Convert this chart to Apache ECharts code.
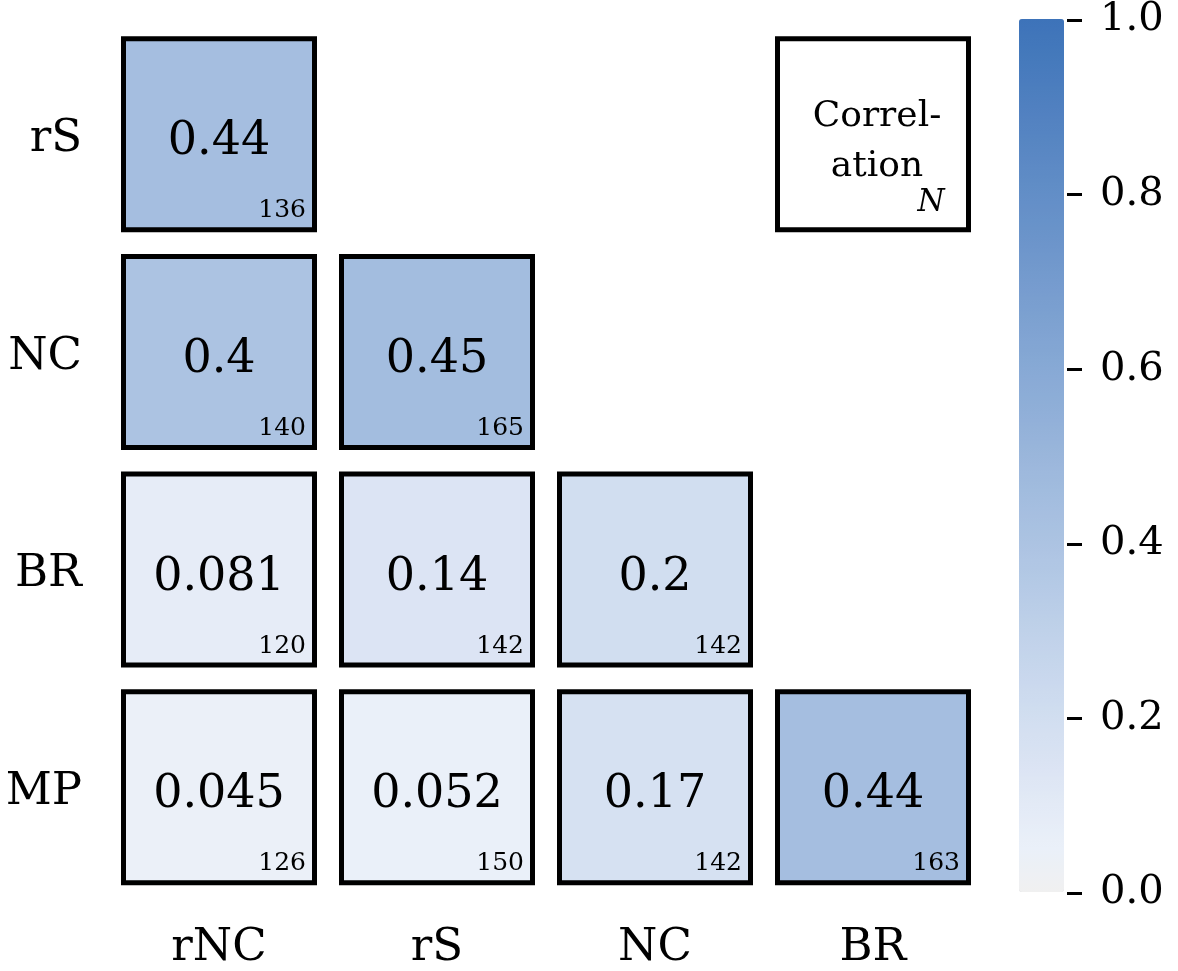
<!DOCTYPE html>
<html>
<head>
<meta charset="utf-8">
<script src="https://cdn.jsdelivr.net/npm/echarts@6/dist/echarts.min.js"></script>
<style>html,body{margin:0;padding:0;background:#fff;}#c{width:1178px;height:971px;}</style>
</head>
<body>
<div id="c"></div>
<script>
// ---- data ----
const colLabels = ['rNC', 'rS', 'NC', 'BR'];
const rowLabels = ['rS', 'NC', 'BR', 'MP'];
// cell positions (column index, row index), correlation and N
const cellCol = [0, 0, 1, 0, 1, 2, 0, 1, 2, 3];
const cellRow = [0, 1, 1, 2, 2, 2, 3, 3, 3, 3];
const corrValues = [0.44, 0.4, 0.45, 0.081, 0.14, 0.2, 0.045, 0.052, 0.17, 0.44];
const nValues = [136, 140, 165, 120, 142, 142, 126, 150, 142, 163];
const colorbarTicks = [0, 0.2, 0.4, 0.6, 0.8, 1.0];
const legendCell = [3, 0];
const legendText = ['Correl-', 'ation'];
const legendNText = 'N';

const FONT = '"DejaVu Serif", serif';
const cells = corrValues.map((v, i) => [cellCol[i], cellRow[i], v, nValues[i]]);
const palette = ['#f0f0f0', '#eaf0f9', '#e3eaf6', '#dae3f3', '#d1def0', '#c8d7ed', '#bfd1e9',
  '#b5cae6', '#acc3e2', '#a3bddf', '#9ab6db', '#90afd8', '#87a9d5', '#7ea2d1', '#759bce',
  '#6b94ca', '#628ec7', '#5987c3', '#5080c0', '#467abc', '#3d73b9'];

function drawCell(api, fillOverride) {
  const c = api.coord([api.value(0), api.value(1)]);
  const outer = 196;
  const lw = 5;
  const x0 = c[0] - outer / 2, y0 = c[1] - outer / 2;
  return {
    x0, y0, outer,
    rect: {
      type: 'rect',
      shape: { x: x0 + lw / 2, y: y0 + lw / 2, width: outer - lw, height: outer - lw },
      style: { fill: fillOverride || api.visual('color'), stroke: '#000', lineWidth: lw }
    }
  };
}

const chart = echarts.init(document.getElementById('c'));
chart.setOption({
  animation: false,
  backgroundColor: '#fff',
  grid: [
    { left: 110, right: 196, top: 25.5, bottom: 73.5 },
    { left: 1019, top: 18, width: 48, height: 875 }
  ],
  xAxis: [
    {
      type: 'category', data: colLabels, gridIndex: 0,
      axisLine: { show: false }, axisTick: { show: false }, splitLine: { show: false },
      axisLabel: { fontFamily: FONT, fontSize: 45, color: '#000', margin: 30 }
    },
    { type: 'value', gridIndex: 1, show: false, min: 0, max: 1 }
  ],
  yAxis: [
    {
      type: 'category', data: rowLabels, gridIndex: 0, inverse: true,
      axisLine: { show: false }, axisTick: { show: false }, splitLine: { show: false },
      axisLabel: { color: '#000', margin: 28,
        formatter: v => '{a|' + v + '}',
        rich: { a: { fontFamily: FONT, fontSize: 45, color: '#000', padding: [10, 0, 0, 0] } } }
    },
    {
      type: 'value', gridIndex: 1, min: 0, max: 1, interval: 0.2, position: 'right', z: 10,
      axisLine: { show: false, onZero: false }, splitLine: { show: false },
      axisTick: { show: true, inside: false, length: 15, lineStyle: { color: '#000', width: 3 } },
      axisLabel: { fontFamily: FONT, fontSize: 40, color: '#000', margin: 33,
        formatter: v => colorbarTicks.indexOf(+v.toFixed(1)) >= 0 ? v.toFixed(1) : '' }
    }
  ],
  visualMap: {
    type: 'continuous', min: 0, max: 1, seriesIndex: 0, dimension: 2,
    calculable: false, hoverLink: false, text: ['', ''], showLabel: false,
    left: 1019, top: 19, itemWidth: 45, itemHeight: 873, padding: 0, z: 2,
    inRange: { color: palette }
  },
  series: [
    {
      type: 'custom', coordinateSystem: 'cartesian2d', xAxisIndex: 0, yAxisIndex: 0,
      data: cells,
      renderItem: function (params, api) {
        const d = drawCell(api);
        const v = api.value(2), n = api.value(3);
        return {
          type: 'group',
          children: [
            d.rect,
            { type: 'text', style: { text: String(v), x: d.x0 + d.outer / 2, y: d.y0 + d.outer / 2 + 8,
                align: 'center', verticalAlign: 'middle', font: '46px ' + FONT, fill: '#000' } },
            { type: 'text', style: { text: String(n), x: d.x0 + d.outer - 11, y: d.y0 + d.outer - 9,
                align: 'right', verticalAlign: 'bottom', font: '25px ' + FONT, fill: '#000' } }
          ]
        };
      }
    },
    {
      type: 'custom', coordinateSystem: 'cartesian2d', xAxisIndex: 0, yAxisIndex: 0,
      data: [legendCell],
      renderItem: function (params, api) {
        const d = drawCell(api, '#ffffff');
        const cx = d.x0 + d.outer / 2 + 4;
        return {
          type: 'group',
          children: [
            d.rect,
            { type: 'text', style: { text: legendText[0], x: cx, y: d.y0 + 80,
                align: 'center', verticalAlign: 'middle', font: '36px ' + FONT, fill: '#000' } },
            { type: 'text', style: { text: legendText[1], x: cx, y: d.y0 + 130,
                align: 'center', verticalAlign: 'middle', font: '36px ' + FONT, fill: '#000' } },
            { type: 'text', style: { text: legendNText, x: d.x0 + d.outer - 40, y: d.y0 + 167,
                align: 'center', verticalAlign: 'middle', font: 'italic 31px ' + FONT, fill: '#000' } }
          ]
        };
      }
    }
  ]
});
</script>
</body>
</html>
